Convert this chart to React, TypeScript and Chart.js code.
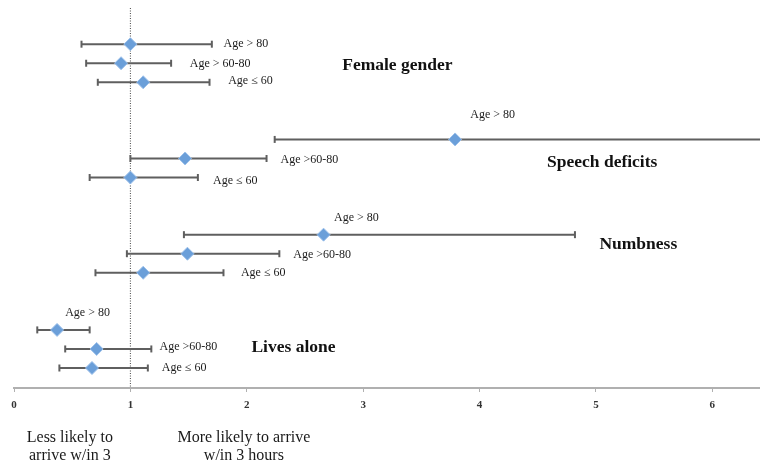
import React, { useEffect, useRef } from "react";
import { Chart, registerables } from "chart.js";

Chart.register(...registerables);

// Row order (top to bottom) and row positions on the hidden y scale
const groups = ["Female gender", "Speech deficits", "Numbness", "Lives alone"];
const rowPositions = [0, 1, 2, 5, 6, 7, 10, 11, 12, 15, 16, 17];

// Odds ratios and 95% CI
const oddsRatio = [1.0, 0.92, 1.11, 3.79, 1.47, 1.0, 2.66, 1.49, 1.11, 0.37, 0.71, 0.67];
const ciLow = [0.58, 0.62, 0.72, 2.24, 1.0, 0.65, 1.46, 0.97, 0.7, 0.2, 0.44, 0.39];
const ciHigh = [1.7, 1.35, 1.68, 6.7, 2.17, 1.58, 4.82, 2.28, 1.8, 0.65, 1.18, 1.15];

const xTicks = [0, 1, 2, 3, 4, 5, 6];

// Annotation texts and their anchor in data units
const rowLabelTexts = [
  "Age > 80", "Age > 60-80", "Age ≤ 60",
  "Age > 80", "Age >60-80", "Age ≤ 60",
  "Age > 80", "Age >60-80", "Age ≤ 60",
  "Age > 80", "Age >60-80", "Age ≤ 60",
];
const rowLabelX = [1.8, 1.51, 1.84, 3.92, 2.29, 1.71, 2.75, 2.4, 1.95, 0.44, 1.25, 1.27];
const rowLabelY = [0, 1.05, 1.9, 3.73, 6.05, 7.2, 9.1, 11.05, 12.0, 14.1, 15.9, 17.0];

const groupLabelX = [2.82, 4.58, 5.03, 2.04];
const groupLabelY = [1.1, 6.2, 10.5, 15.9];

const footerLines = [
  { x: 0.48, lines: ["Less likely to", "arrive w/in 3"] },
  { x: 1.975, lines: ["More likely to arrive", "w/in 3 hours"] },
];

const X_MIN = 0;
const X_MAX = 6.41;
const Y_MIN = -1.9;
const Y_MAX = 18.05;

const LINE_COLOR = "#5f5f5f";
const DIAMOND_FILL = "#6b9fd9";
const DIAMOND_BORDER = "#9cc0ea";

const textPlugin = {
  id: "forestText",
  afterDatasetsDraw(chart: any) {
    const { ctx, scales, chartArea } = chart;
    const xs = scales.x;
    const ys = scales.y;
    ctx.save();
    ctx.fillStyle = "#1a1a1a";
    ctx.textBaseline = "middle";
    ctx.textAlign = "left";
    ctx.font = "12px 'Liberation Serif', 'DejaVu Serif', serif";
    rowLabelTexts.forEach((t, i) => {
      ctx.fillText(t, xs.getPixelForValue(rowLabelX[i]), ys.getPixelForValue(rowLabelY[i]));
    });
    ctx.font = "bold 17.5px 'Liberation Serif', 'DejaVu Serif', serif";
    ctx.fillStyle = "#111";
    groups.forEach((g, i) => {
      ctx.fillText(g, xs.getPixelForValue(groupLabelX[i]), ys.getPixelForValue(groupLabelY[i]));
    });
    ctx.font = "16px 'Liberation Serif', 'DejaVu Serif', serif";
    ctx.textAlign = "center";
    ctx.fillStyle = "#1a1a1a";
    footerLines.forEach((f) => {
      f.lines.forEach((l, j) => {
        ctx.fillText(l, xs.getPixelForValue(f.x), chartArea.bottom + 50 + j * 18);
      });
    });
    ctx.restore();
  },
};

export default function App() {
  const ref = useRef<HTMLCanvasElement | null>(null);

  useEffect(() => {
    document.body.style.margin = "0";
    const canvas = ref.current;
    if (!canvas) return;

    const ciDatasets = rowPositions.map((r, i) => ({
      type: "line" as const,
      data: [
        { x: ciLow[i], y: r },
        { x: ciHigh[i], y: r },
      ],
      borderColor: LINE_COLOR,
      borderWidth: 2,
      pointStyle: "line" as const,
      pointRotation: 90,
      pointRadius: 3.5,
      pointBorderWidth: 2,
      pointBorderColor: LINE_COLOR,
      pointHoverRadius: 3.5,
      order: 2,
    }));

    const refLine = {
      type: "line" as const,
      data: [
        { x: 1, y: Y_MIN },
        { x: 1, y: Y_MAX },
      ],
      borderColor: "#444",
      borderWidth: 1,
      borderDash: [1, 1.5],
      pointRadius: 0,
      order: 3,
    };

    const points = {
      type: "scatter" as const,
      data: rowPositions.map((r, i) => ({ x: oddsRatio[i], y: r })),
      pointStyle: "rectRot" as const,
      pointRadius: 6.5,
      pointBackgroundColor: DIAMOND_FILL,
      pointBorderColor: DIAMOND_BORDER,
      pointBorderWidth: 1,
      order: 1,
    };

    const chart = new Chart(canvas, {
      type: "scatter",
      data: { datasets: [refLine, ...ciDatasets, points] as any },
      options: {
        animation: false,
        responsive: false,
        maintainAspectRatio: false,
        layout: { autoPadding: false, padding: { left: 14, right: 0, top: 8, bottom: 0 } },
        plugins: { legend: { display: false }, tooltip: { enabled: false } },
        scales: {
          x: {
            type: "linear",
            min: X_MIN,
            max: X_MAX,
            afterBuildTicks: (scale: any) => {
              scale.ticks = xTicks.map((v) => ({ value: v }));
            },
            afterFit: (scale: any) => {
              scale.height = 78;
              scale.paddingRight = 0;
              scale.paddingLeft = 0;
            },
            ticks: {
              color: "#333",
              padding: 7,
              font: { family: "'Liberation Serif', serif", size: 11, weight: "bold" },
            },
            grid: {
              display: true,
              drawOnChartArea: false,
              drawTicks: true,
              tickLength: 4,
              color: "#b0b0b0",
            },
            border: { display: true, color: "#b0b0b0", width: 2 },
          },
          y: {
            type: "linear",
            display: false,
            reverse: true,
            min: Y_MIN,
            max: Y_MAX,
          },
        },
      },
      plugins: [textPlugin],
    });

    return () => chart.destroy();
  }, []);

  return (
    <div style={{ width: 760, height: 466 }}>
      <canvas ref={ref} width={760} height={466} style={{ display: "block" }} />
    </div>
  );
}
